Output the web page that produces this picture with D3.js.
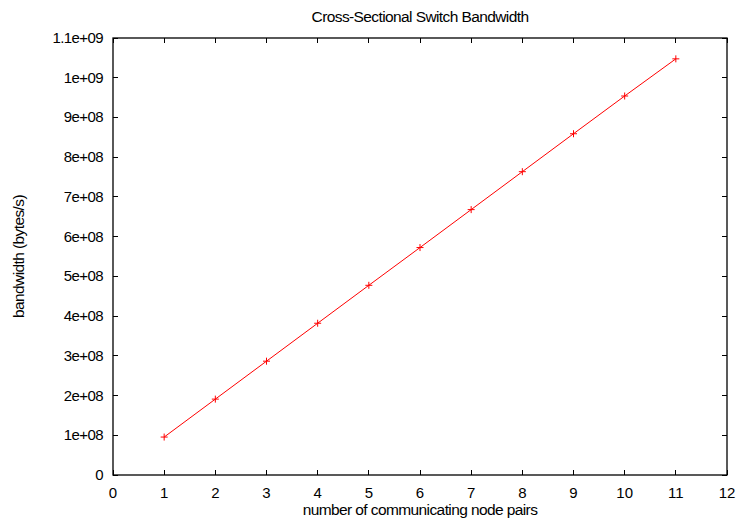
<!DOCTYPE html>
<html><head><meta charset="utf-8">
<script src="https://cdn.jsdelivr.net/npm/d3@7"></script>
<style>body{margin:0;background:#fff}svg{display:block}text{font-family:"Liberation Sans",Arial,sans-serif;fill:#000}</style>
</head><body><svg id="c" width="736" height="520"></svg>
<script>
const pairs = [1,2,3,4,5,6,7,8,9,10,11];
const bandwidth = [9.55e7,1.91e8,2.865e8,3.82e8,4.775e8,5.725e8,6.68e8,7.635e8,8.59e8,9.54e8,1.0475e9];
const xTicks = d3.range(0,13);
const yTicks = d3.range(0,12).map(i=>i*1e8);
const yTickLabels = ["0","1e+08","2e+08","3e+08","4e+08","5e+08","6e+08","7e+08","8e+08","9e+08","1e+09","1.1e+09"];
const title = "Cross-Sectional Switch Bandwidth";
const xLabel = "number of communicating node pairs";
const yLabel = "bandwidth (bytes/s)";

const L=113,R=727,T=38,B=475;
const svg=d3.select("#c");
const x=d3.scaleLinear().domain([0,12]).range([L,R]);
const y=d3.scaleLinear().domain([0,1.1e9]).range([B,T]);
const tl=5;
const fs="15.5px";

const g=svg.append("g").attr("stroke","#000").attr("stroke-width",1).attr("shape-rendering","crispEdges");
xTicks.forEach(v=>{
  g.append("line").attr("x1",x(v)).attr("x2",x(v)).attr("y1",B).attr("y2",B-tl);
  g.append("line").attr("x1",x(v)).attr("x2",x(v)).attr("y1",T).attr("y2",T+tl);
});
yTicks.forEach(v=>{
  g.append("line").attr("y1",y(v)).attr("y2",y(v)).attr("x1",L).attr("x2",L+tl);
  g.append("line").attr("y1",y(v)).attr("y2",y(v)).attr("x1",R).attr("x2",R-tl);
});
svg.append("rect").attr("x",L).attr("y",T).attr("width",R-L).attr("height",B-T)
  .attr("fill","none").attr("stroke","#000").attr("stroke-width",1.3);

xTicks.forEach(v=>svg.append("text").attr("x",x(v)).attr("y",B+23).attr("text-anchor","middle").attr("font-size","15px").text(v));
yTicks.forEach((v,i)=>svg.append("text").attr("x",L-10).attr("y",y(v)+5).attr("text-anchor","end").attr("font-size","15px").attr("letter-spacing","-0.6").text(yTickLabels[i]));

svg.append("text").attr("x",(L+R)/2).attr("y",22).attr("text-anchor","middle").attr("font-size",fs).attr("letter-spacing","-0.6").text(title);
svg.append("text").attr("x",(L+R)/2).attr("y",515).attr("text-anchor","middle").attr("font-size",fs).attr("letter-spacing","-0.6").text(xLabel);
svg.append("text").attr("transform","translate(24,"+((T+B)/2)+") rotate(-90)").attr("text-anchor","middle").attr("font-size",fs).attr("letter-spacing","-0.6").text(yLabel);

const line=d3.line().x((d,i)=>x(pairs[i])).y(d=>y(d));
svg.append("path").datum(bandwidth).attr("d",line).attr("fill","none").attr("stroke","#ff0000").attr("stroke-width",1);
const s=3.5;
const m=svg.append("g").attr("stroke","#ff0000").attr("stroke-width",1);
bandwidth.forEach((d,i)=>{
  const cx=x(pairs[i]),cy=y(d);
  m.append("line").attr("x1",cx-s).attr("x2",cx+s).attr("y1",cy).attr("y2",cy);
  m.append("line").attr("x1",cx).attr("x2",cx).attr("y1",cy-s).attr("y2",cy+s);
});
</script></body></html>
